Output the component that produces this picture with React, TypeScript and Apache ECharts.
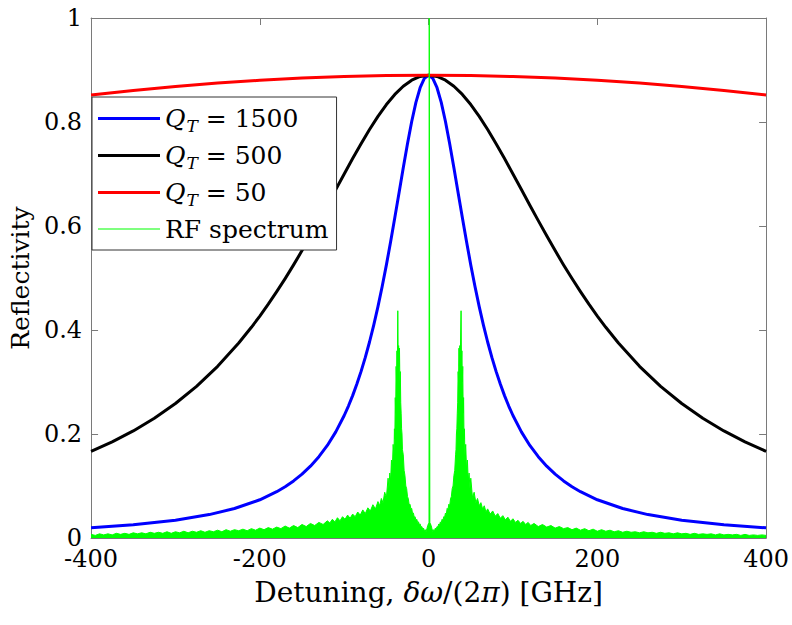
import React, { useEffect, useRef } from "react";
import * as echarts from "echarts";

const FONT = "DejaVu Serif";

const xTicks = [-400, -200, 0, 200, 400];
const yTicks = [0, 0.2, 0.4, 0.6, 0.8, 1];

const seriesNames = ["Q_T = 1500", "Q_T = 500", "Q_T = 50", "RF spectrum"];

// Q_T = 1500 (blue)
const blueX = [-400, -350, -300, -260, -230, -200, -180, -170, -160, -150, -140, -130, -120, -110, -100, -95, -90, -85, -80, -75, -70, -65, -60, -55, -50, -45, -40, -35, -30, -25, -20, -15, -10, -5, 0, 5, 10, 15, 20, 25, 30, 35, 40, 45, 50, 55, 60, 65, 70, 75, 80, 85, 90, 95, 100, 110, 120, 130, 140, 150, 160, 170, 180, 200, 230, 260, 300, 350, 400];
const blueY = [0.0196, 0.0254, 0.0342, 0.045, 0.0567, 0.0735, 0.089, 0.0986, 0.1097, 0.1228, 0.1381, 0.1563, 0.178, 0.2041, 0.2356, 0.2538, 0.2738, 0.296, 0.3204, 0.3473, 0.3769, 0.4095, 0.445, 0.4836, 0.5252, 0.5696, 0.6162, 0.664, 0.712, 0.7583, 0.801, 0.8376, 0.8659, 0.8839, 0.89, 0.8839, 0.8659, 0.8376, 0.801, 0.7583, 0.712, 0.664, 0.6162, 0.5696, 0.5252, 0.4836, 0.445, 0.4095, 0.3769, 0.3473, 0.3204, 0.296, 0.2738, 0.2538, 0.2356, 0.2041, 0.178, 0.1563, 0.1381, 0.1228, 0.1097, 0.0986, 0.089, 0.0735, 0.0567, 0.045, 0.0342, 0.0254, 0.0196];

// Q_T = 500 (black)
const blackX = [-400, -375, -350, -325, -300, -275, -250, -225, -210, -200, -190, -180, -170, -160, -150, -140, -130, -120, -110, -100, -90, -80, -70, -60, -50, -40, -30, -20, -10, 0, 10, 20, 30, 40, 50, 60, 70, 80, 90, 100, 110, 120, 130, 140, 150, 160, 170, 180, 190, 200, 210, 225, 250, 275, 300, 325, 350, 375, 400];
const blackY = [0.1667, 0.1848, 0.2059, 0.2303, 0.2586, 0.2917, 0.3302, 0.375, 0.4052, 0.4268, 0.4496, 0.4737, 0.4989, 0.5252, 0.5527, 0.5811, 0.6103, 0.64, 0.6701, 0.7001, 0.7297, 0.7583, 0.7856, 0.8108, 0.8335, 0.853, 0.8688, 0.8804, 0.8876, 0.89, 0.8876, 0.8804, 0.8688, 0.853, 0.8335, 0.8108, 0.7856, 0.7583, 0.7297, 0.7001, 0.6701, 0.64, 0.6103, 0.5811, 0.5527, 0.5252, 0.4989, 0.4737, 0.4496, 0.4268, 0.4052, 0.375, 0.3302, 0.2917, 0.2586, 0.2303, 0.2059, 0.1848, 0.1667];

// Q_T = 50 (red)
const redX = [-400, -350, -300, -250, -200, -150, -100, -50, 0, 50, 100, 150, 200, 250, 300, 350, 400];
const redY = [0.852, 0.8606, 0.8682, 0.8748, 0.8802, 0.8845, 0.8875, 0.8894, 0.89, 0.8894, 0.8875, 0.8845, 0.8802, 0.8748, 0.8682, 0.8606, 0.852];

// RF spectrum (green), [detuning GHz, amplitude]
const rfSpectrum: [number, number][] = [
  [-400, 0.007], [-395, 0.005], [-390, 0.008], [-385, 0.006], [-380, 0.008], [-375, 0.006], [-370, 0.009], [-365, 0.007],
  [-360, 0.009], [-355, 0.007], [-350, 0.01], [-345, 0.008], [-340, 0.01], [-335, 0.008], [-330, 0.011], [-325, 0.009],
  [-320, 0.011], [-315, 0.009], [-310, 0.012], [-305, 0.009], [-300, 0.012], [-295, 0.01], [-290, 0.013], [-285, 0.01],
  [-280, 0.013], [-275, 0.011], [-270, 0.014], [-265, 0.011], [-260, 0.014], [-255, 0.012], [-250, 0.015], [-245, 0.012],
  [-240, 0.016], [-235, 0.013], [-230, 0.016], [-225, 0.014], [-220, 0.017], [-215, 0.014], [-210, 0.018], [-205, 0.015],
  [-200, 0.019], [-195, 0.016], [-190, 0.02], [-185, 0.017], [-180, 0.021], [-175, 0.018], [-170, 0.023], [-165, 0.019],
  [-160, 0.024], [-155, 0.02], [-150, 0.026], [-145, 0.022], [-140, 0.028], [-135, 0.024], [-130, 0.03], [-125, 0.026],
  [-120, 0.033], [-117, 0.029], [-114, 0.036], [-111, 0.031], [-108, 0.039], [-105, 0.033], [-102, 0.041], [-99, 0.036],
  [-96, 0.044], [-93, 0.038], [-90, 0.046], [-87, 0.041], [-84, 0.05], [-81, 0.044], [-78, 0.054], [-75, 0.047],
  [-72, 0.058], [-69, 0.052], [-66, 0.064], [-63, 0.056], [-60, 0.07], [-58, 0.062], [-56, 0.076], [-54, 0.068],
  [-52, 0.088], [-50, 0.078], [-48, 0.115], [-47, 0.095], [-46, 0.125], [-45, 0.11], [-44, 0.15], [-43, 0.13],
  [-42, 0.18], [-41, 0.16], [-40.5, 0.21], [-40, 0.19], [-39.5, 0.27], [-39, 0.24], [-38.5, 0.33], [-38, 0.3],
  [-37.5, 0.36], [-37, 0.33], [-36.5, 0.437], [-36, 0.34], [-35.5, 0.37], [-35, 0.33], [-34.5, 0.365], [-34, 0.3],
  [-33.5, 0.32], [-33, 0.26], [-32.5, 0.24], [-32, 0.21], [-31.5, 0.2], [-31, 0.17], [-30, 0.16], [-29, 0.13],
  [-28, 0.12], [-27, 0.1], [-26, 0.095], [-25, 0.08], [-24, 0.075], [-23, 0.064], [-22, 0.065], [-21, 0.056],
  [-20, 0.057], [-19, 0.047], [-18, 0.048], [-17, 0.04], [-16, 0.041], [-15, 0.034], [-14, 0.036], [-13, 0.03],
  [-12, 0.031], [-11, 0.026], [-10, 0.027], [-9, 0.021], [-8, 0.022], [-7, 0.017], [-6, 0.019], [-5, 0.014],
  [-4, 0.016], [-3, 0.012], [-2, 0.018], [-1, 0.024], [0, 0.028], [0.5, 0.02], [0.8, 1.0], [1.2, 1.0],
  [1.5, 0.02], [2, 0.028], [3, 0.024], [4, 0.018], [5, 0.012], [6, 0.016], [7, 0.014], [8, 0.019], [9, 0.017],
  [10, 0.022], [11, 0.021], [12, 0.027], [13, 0.025], [14, 0.031], [15, 0.029], [16, 0.036], [17, 0.034],
  [18, 0.041], [19, 0.04], [20, 0.048], [21, 0.046], [22, 0.057], [23, 0.055], [24, 0.065], [25, 0.062],
  [26, 0.075], [27, 0.08], [28, 0.095], [29, 0.1], [30, 0.12], [31, 0.13], [32, 0.16], [32.5, 0.17],
  [33, 0.2], [33.5, 0.21], [34, 0.24], [34.5, 0.26], [35, 0.32], [35.5, 0.3], [36, 0.365], [36.5, 0.33],
  [37, 0.37], [37.5, 0.34], [38.5, 0.437], [39, 0.33], [39.5, 0.36], [40, 0.3], [40.5, 0.33], [41, 0.24],
  [41.5, 0.27], [42, 0.19], [42.5, 0.21], [43, 0.16], [44, 0.18], [45, 0.13], [46, 0.15], [47, 0.11],
  [48, 0.125], [49, 0.095], [50, 0.115], [52, 0.078], [54, 0.088], [56, 0.068], [58, 0.076], [60, 0.062],
  [62, 0.068], [64, 0.056], [66, 0.062], [68, 0.05], [70, 0.056], [73, 0.046], [76, 0.052], [79, 0.042],
  [82, 0.047], [85, 0.038], [88, 0.043], [91, 0.035], [94, 0.04], [97, 0.032], [100, 0.037], [103, 0.03],
  [106, 0.034], [109, 0.028], [112, 0.032], [115, 0.026], [118, 0.03], [121, 0.024], [125, 0.028], [130, 0.022],
  [135, 0.026], [140, 0.021], [145, 0.024], [150, 0.019], [155, 0.022], [160, 0.018], [165, 0.02], [170, 0.016],
  [175, 0.019], [180, 0.015], [185, 0.018], [190, 0.014], [195, 0.017], [200, 0.013], [205, 0.016], [210, 0.013],
  [215, 0.015], [220, 0.012], [225, 0.014], [230, 0.011], [235, 0.013], [240, 0.011], [245, 0.012], [250, 0.01],
  [255, 0.012], [260, 0.01], [265, 0.011], [270, 0.009], [275, 0.011], [280, 0.009], [285, 0.01], [290, 0.008],
  [295, 0.01], [300, 0.008], [305, 0.009], [310, 0.007], [315, 0.009], [320, 0.007], [325, 0.008], [330, 0.007],
  [335, 0.008], [340, 0.006], [345, 0.008], [350, 0.006], [355, 0.007], [360, 0.006], [365, 0.007], [370, 0.005],
  [375, 0.007], [380, 0.005], [385, 0.006], [390, 0.005], [395, 0.006], [400, 0.005],
];

const AXIS_COLOR = "#7a7a7a";
const THICK_ICON = "path://M0,0L62,0L62,3L0,3Z";
const THIN_ICON = "path://M0,0L62,0L62,1.2L0,1.2Z";

export default function App() {
  const ref = useRef<HTMLDivElement>(null);

  useEffect(() => {
    if (!ref.current) return;
    const chart = echarts.init(ref.current, null, { renderer: "svg" });

    const pair = (xs: number[], ys: number[]) => xs.map((x, i) => [x, ys[i]]);
    const legendRich: Record<string, string> = {
      "Q_T = 1500": "{q|Q}{s|T}{n| = 1500}",
      "Q_T = 500": "{q|Q}{s|T}{n| = 500}",
      "Q_T = 50": "{q|Q}{s|T}{n| = 50}",
      "RF spectrum": "{n|RF spectrum}",
    };
    const colors = ["#0000ff", "#000000", "#ff0000", "#00ff00"];

    const xAxisBase = {
      type: "value" as const,
      min: xTicks[0],
      max: xTicks[xTicks.length - 1],
      interval: 200,
      axisLine: { show: true, onZero: false, lineStyle: { color: AXIS_COLOR, width: 1 } },
      axisTick: { show: true, inside: true, length: 7, lineStyle: { color: AXIS_COLOR } },
      splitLine: { show: false },
    };
    const yAxisBase = {
      type: "value" as const,
      min: yTicks[0],
      max: yTicks[yTicks.length - 1],
      interval: 0.2,
      axisLine: { show: true, onZero: false, lineStyle: { color: AXIS_COLOR, width: 1 } },
      axisTick: { show: true, inside: true, length: 7, lineStyle: { color: AXIS_COLOR } },
      splitLine: { show: false },
    };

    const curve = (name: string, data: number[][], color: string) => ({
      name,
      type: "line",
      data,
      symbol: "none",
      lineStyle: { color, width: 3, join: "round" },
      itemStyle: { color },
      z: 2,
    });

    chart.setOption({
      animation: false,
      backgroundColor: "#ffffff",
      grid: { left: 91, right: 23, top: 18, bottom: 87, containLabel: false },
      xAxis: [
        {
          ...xAxisBase,
          position: "bottom",
          axisLabel: { show: true, margin: 11, color: "#000", fontFamily: FONT, fontSize: 24, lineHeight: 20 },
          name: "{n|Detuning, }{i|δω}{n|/(2}{i|π}{n|) [GHz]}",
          nameLocation: "middle",
          nameGap: 40,
          nameTextStyle: {
            color: "#000",
            fontFamily: FONT,
            fontSize: 28,
            rich: {
              n: { fontFamily: FONT, fontSize: 28, color: "#000" },
              i: { fontFamily: FONT, fontSize: 28, color: "#000", fontStyle: "italic" },
            },
          },
        },
        { ...xAxisBase, position: "top", axisLabel: { show: false } },
      ],
      yAxis: [
        {
          ...yAxisBase,
          position: "left",
          axisLabel: { show: true, margin: 9, color: "#000", fontFamily: FONT, fontSize: 24, lineHeight: 18, formatter: (v: number) => String(Math.round(v * 10) / 10) },
          name: "Reflectivity",
          nameLocation: "middle",
          nameGap: 56,
          nameTextStyle: { color: "#000", fontFamily: FONT, fontSize: 25 },
        },
        { ...yAxisBase, position: "right", axisLabel: { show: false } },
      ],
      legend: {
        data: seriesNames.map((n, i) => ({
          name: n,
          icon: i === 3 ? THIN_ICON : THICK_ICON,
          itemStyle: { color: colors[i], borderWidth: 0 },
        })),
        orient: "vertical",
        left: 92,
        top: 97,
        padding: [6, 8, 6, 6],
        itemWidth: 62,
        itemHeight: 14,
        itemGap: 6,
        symbolKeepAspect: true,
        backgroundColor: "#ffffff",
        borderColor: "#333333",
        borderWidth: 1,
        borderRadius: 0,
        formatter: (name: string) => legendRich[name] ?? name,
        textStyle: {
          color: "#000",
          fontFamily: FONT,
          fontSize: 25,
          lineHeight: 30,
          rich: {
            q: { fontFamily: FONT, fontSize: 25, fontStyle: "italic", color: "#000", lineHeight: 30, verticalAlign: "middle" },
            s: { fontFamily: FONT, fontSize: 17, fontStyle: "italic", color: "#000", lineHeight: 17, padding: [14, 0, 0, 1], verticalAlign: "middle" },
            n: { fontFamily: FONT, fontSize: 25, color: "#000", lineHeight: 30, verticalAlign: "middle" },
          },
        },
      },
      series: [
        curve(seriesNames[0], pair(blueX, blueY), colors[0]),
        curve(seriesNames[1], pair(blackX, blackY), colors[1]),
        curve(seriesNames[2], pair(redX, redY), colors[2]),
        {
          name: seriesNames[3],
          type: "line",
          data: rfSpectrum,
          symbol: "none",
          lineStyle: { color: colors[3], width: 1 },
          itemStyle: { color: colors[3] },
          areaStyle: { color: colors[3], opacity: 1 },
          z: 3,
        },
      ],
    });

    return () => chart.dispose();
  }, []);

  return <div ref={ref} style={{ width: 792, height: 625, position: "absolute", left: 0, top: 0 }} />;
}
